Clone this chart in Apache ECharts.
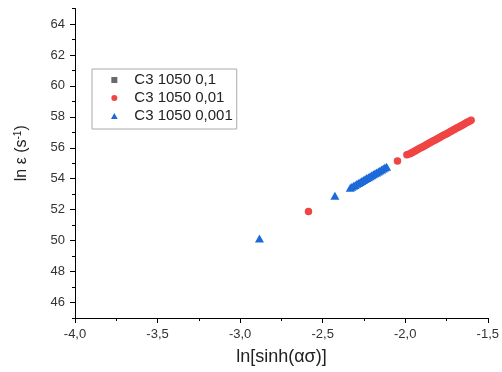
<!DOCTYPE html>
<html>
<head>
<meta charset="utf-8">
<script src="https://cdn.jsdelivr.net/npm/echarts@6/dist/echarts.min.js"></script>
<style>html,body{margin:0;padding:0;background:#fff}#c{width:502px;height:372px}</style>
</head>
<body>
<div id="c"></div>
<script>
var seriesNames = ['C3 1050 0,1', 'C3 1050 0,01', 'C3 1050 0,001'];

// C3 1050 0,1 — no points visible inside the plotted range
var s1X = [];
var s1Y = [];

// C3 1050 0,01
var s2X = [-2.586, -2.047, -1.990,
  -1.976, -1.966, -1.957, -1.947, -1.938, -1.928, -1.918, -1.909, -1.899, -1.890,
  -1.880, -1.870, -1.861, -1.851, -1.842, -1.832, -1.822, -1.813, -1.803, -1.794,
  -1.784, -1.774, -1.765, -1.755, -1.746, -1.736, -1.726, -1.717, -1.707, -1.698,
  -1.688, -1.678, -1.669, -1.659, -1.650, -1.640, -1.630, -1.621, -1.611, -1.601];
var s2Y = [51.89, 55.14, 55.55,
  55.59, 55.65, 55.70, 55.76, 55.81, 55.87, 55.93, 55.98, 56.04, 56.09,
  56.15, 56.21, 56.26, 56.32, 56.37, 56.43, 56.49, 56.54, 56.60, 56.65,
  56.71, 56.77, 56.82, 56.88, 56.93, 56.99, 57.05, 57.10, 57.16, 57.21,
  57.27, 57.33, 57.38, 57.44, 57.49, 57.55, 57.61, 57.66, 57.72, 57.78];

// C3 1050 0,001
var s3X = [-2.883, -2.426,
  -2.333, -2.323, -2.313, -2.303, -2.293, -2.283, -2.273, -2.263, -2.253, -2.243,
  -2.233, -2.223, -2.213, -2.203, -2.193, -2.183, -2.173, -2.163, -2.153, -2.143,
  -2.133, -2.123, -2.113];
var s3Y = [50.13, 52.90,
  53.42, 53.48, 53.54, 53.60, 53.67, 53.73, 53.79, 53.85, 53.91, 53.98,
  54.04, 54.10, 54.16, 54.22, 54.29, 54.35, 54.41, 54.47, 54.53, 54.60,
  54.66, 54.72, 54.78];

var yMajor = [46, 48, 50, 52, 54, 56, 58, 60, 62, 64];
var yMinor = [45, 47, 49, 51, 53, 55, 57, 59, 61, 63, 65];

function zip(a, b) { return a.map(function (v, i) { return [v, b[i]]; }); }

var FONT = '"Liberation Sans", Arial, sans-serif';
var chart = echarts.init(document.getElementById('c'), null, {renderer: 'canvas'});
chart.setOption({
  animation: false,
  backgroundColor: '#fff',
  textStyle: {fontFamily: FONT},
  grid: {left: 75, right: 14, top: 8.5, bottom: 54, containLabel: false},
  legend: {
    orient: 'vertical', left: 92, top: 69,
    padding: [2, 4, 4, 19], itemGap: 0, itemWidth: 30, itemHeight: 6,
    borderColor: '#aaa', borderWidth: 1, backgroundColor: '#fff',
    symbolKeepAspect: true,
    textStyle: {fontSize: 15, color: '#222', fontFamily: FONT, lineHeight: 18},
    data: [
      {name: seriesNames[0], icon: 'path://M0,0H1V1H0Z'},
      {name: seriesNames[1], icon: 'circle'},
      {name: seriesNames[2], icon: 'path://M0.5,0L1,0.9H0Z'}
    ]
  },
  xAxis: {
    type: 'value', min: -4, max: -1.5, interval: 0.5,
    name: 'ln[sinh(ασ)]', nameLocation: 'middle', nameGap: 30,
    nameTextStyle: {fontSize: 18, color: '#222', fontFamily: FONT},
    axisLine: {show: true, onZero: false, lineStyle: {color: '#000', width: 1}},
    axisTick: {show: true, length: 5, lineStyle: {color: '#000'}},
    minorTick: {show: true, splitNumber: 2, length: 3, lineStyle: {color: '#000'}},
    splitLine: {show: false},
    axisLabel: {fontSize: 13, color: '#333', margin: 10,
      formatter: function (v) { return v.toFixed(1).replace('.', ','); }}
  },
  yAxis: [{
    type: 'value', min: 45, max: 65, interval: 1, position: 'left',
    name: '{a|ln ε (s}{s|-1}{a|)}', nameLocation: 'middle', nameGap: 45,
    nameTextStyle: {fontSize: 16, color: '#222', fontFamily: FONT, padding: [0, 0, 0, 20],
      rich: {a: {fontSize: 16, color: '#222', fontFamily: FONT},
             s: {fontSize: 10, color: '#222', fontFamily: FONT, verticalAlign: 'top', padding: [0, 0, 7, 0]}}},
    axisLine: {show: true, onZero: false, lineStyle: {color: '#000', width: 1}},
    axisTick: {show: true, length: 5, customValues: yMajor, lineStyle: {color: '#000'}},
    axisLabel: {fontSize: 13, color: '#333', margin: 10, customValues: yMajor},
    splitLine: {show: false}
  }, {
    type: 'value', min: 45, max: 65, interval: 1, position: 'left', offset: 0,
    axisLine: {show: false},
    axisTick: {show: true, length: 3, customValues: yMinor, lineStyle: {color: '#000'}},
    axisLabel: {show: false},
    splitLine: {show: false}
  }],
  series: [{
    name: seriesNames[0], type: 'scatter', symbol: 'rect', symbolSize: 7,
    itemStyle: {color: '#444'}, data: zip(s1X, s1Y)
  }, {
    name: seriesNames[1], type: 'scatter', symbol: 'circle', symbolSize: 7.5,
    itemStyle: {color: '#f04545', opacity: 1}, data: zip(s2X, s2Y)
  }, {
    name: seriesNames[2], type: 'scatter', symbol: 'triangle', symbolSize: [9, 8],
    itemStyle: {color: '#1c6ad8', opacity: 1}, data: zip(s3X, s3Y)
  }]
});
</script>
</body>
</html>
